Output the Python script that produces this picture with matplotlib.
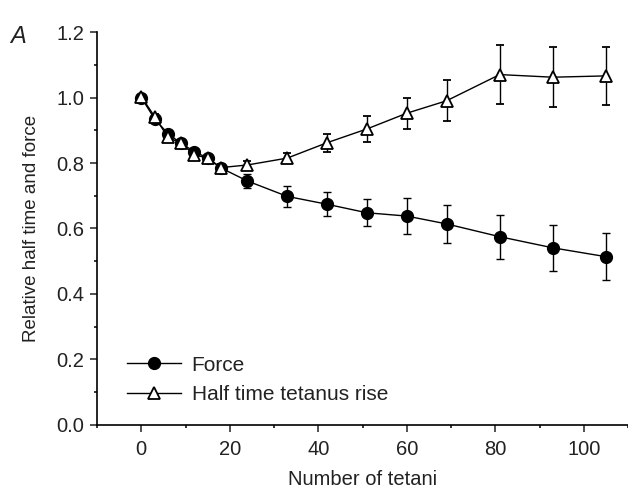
import matplotlib.pyplot as plt
from matplotlib.lines import Line2D
from matplotlib.ticker import MultipleLocator

plt.rcParams['font.family'] = ['Liberation Sans', 'DejaVu Sans']

# Data
tetani = [0, 3, 6, 9, 12, 15, 18, 24, 33, 42, 51, 60, 69, 81, 93, 105]
force = [1.0, 0.935, 0.89, 0.86, 0.835, 0.815, 0.785, 0.745, 0.698, 0.674, 0.648, 0.638, 0.614, 0.575, 0.541, 0.514]
force_err = [0.005, 0.01, 0.01, 0.01, 0.01, 0.01, 0.012, 0.022, 0.033, 0.036, 0.041, 0.056, 0.057, 0.067, 0.071, 0.072]
half_time = [1.003, 0.942, 0.879, 0.86, 0.825, 0.815, 0.786, 0.794, 0.815, 0.862, 0.904, 0.952, 0.99, 1.07, 1.062, 1.066]
half_err = [0.005, 0.008, 0.012, 0.008, 0.01, 0.008, 0.012, 0.012, 0.015, 0.027, 0.04, 0.048, 0.062, 0.089, 0.091, 0.088]

fig = plt.figure(figsize=(6.28, 4.94), dpi=100)
ax = fig.add_axes([0.1545, 0.1397, 0.8455, 0.7955])

ax.errorbar(tetani, force, yerr=force_err, color="black", marker="o", markersize=8.5,
            markerfacecolor="black", markeredgecolor="black", linewidth=1.0,
            elinewidth=1.0, capsize=3, capthick=1.0, zorder=2)
ax.errorbar(tetani, half_time, yerr=half_err, color="black", marker="^", markersize=9,
            markerfacecolor="white", markeredgecolor="black", markeredgewidth=1.3,
            linewidth=1.0, elinewidth=1.0, capsize=3, capthick=1.0, zorder=3)

ax.set_xlim(-10, 110)
ax.set_ylim(0, 1.2)
ax.xaxis.set_major_locator(MultipleLocator(20))
ax.xaxis.set_minor_locator(MultipleLocator(10))
ax.yaxis.set_major_locator(MultipleLocator(0.2))
ax.yaxis.set_minor_locator(MultipleLocator(0.1))
ax.yaxis.set_major_formatter(plt.FormatStrFormatter("%.1f"))
ax.tick_params(which="major", direction="out", length=5, width=1.1, labelsize=14.5, colors="#222222")
ax.tick_params(axis="x", which="major", pad=6)
ax.tick_params(axis="y", which="major", pad=4)
ax.tick_params(which="minor", direction="out", length=2.5, width=1.1)
ax.spines["top"].set_visible(False)
ax.spines["right"].set_visible(False)
ax.spines["left"].set_linewidth(1.2)
ax.spines["bottom"].set_linewidth(1.2)

ax.set_xlabel("Number of tetani", fontsize=14.5, labelpad=8, color="#222222")
ax.set_ylabel("Relative half time and force", fontsize=13.5, labelpad=12, color="#222222")

handles = [
    Line2D([], [], color="black", linewidth=1.0, marker="o", markersize=8.5,
           markerfacecolor="black"),
    Line2D([], [], color="black", linewidth=1.0, marker="^", markersize=9,
           markerfacecolor="white", markeredgewidth=1.3),
]
ax.legend(handles, ["Force", "Half time tetanus rise"], loc="lower left",
          bbox_to_anchor=(0.037, 0.027), frameon=False, fontsize=15,
          handlelength=2.6, handletextpad=0.5, labelspacing=0.49, borderpad=0,
          labelcolor="#222222")

fig.text(0.016, 0.913, "A", fontsize=17, style="italic", color="#222222")

fig.savefig("out.png", dpi=100)
